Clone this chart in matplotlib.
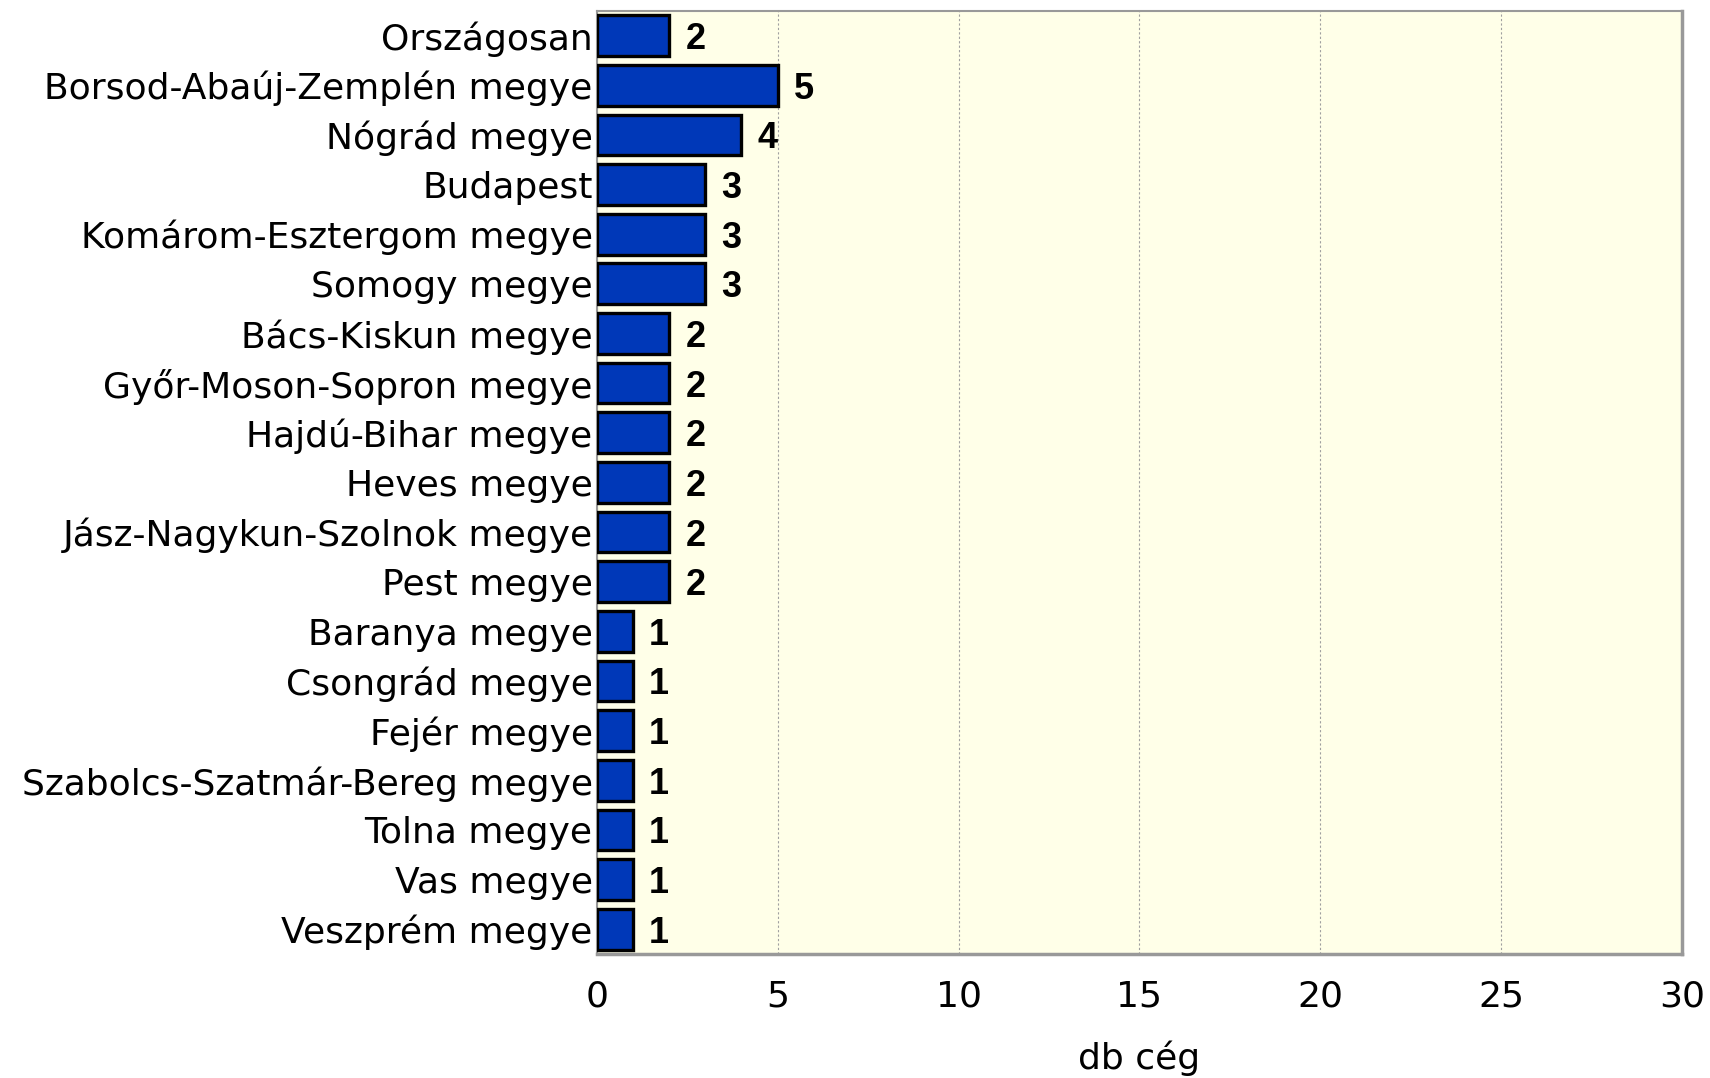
import matplotlib
matplotlib.use("Agg")
import matplotlib.pyplot as plt

categories = ["Országosan", "Borsod-Abaúj-Zemplén megye", "Nógrád megye", "Budapest",
              "Komárom-Esztergom megye", "Somogy megye", "Bács-Kiskun megye",
              "Győr-Moson-Sopron megye", "Hajdú-Bihar megye", "Heves megye",
              "Jász-Nagykun-Szolnok megye", "Pest megye", "Baranya megye",
              "Csongrád megye", "Fejér megye", "Szabolcs-Szatmár-Bereg megye",
              "Tolna megye", "Vas megye", "Veszprém megye"]
values = [2, 5, 4, 3, 3, 3, 2, 2, 2, 2, 2, 2, 1, 1, 1, 1, 1, 1, 1]
xticks = [0, 5, 10, 15, 20, 25, 30]
xlabel = "db cég"

plt.rcParams['font.family'] = ['DejaVu Sans']

fig = plt.figure(figsize=(17.1, 10.78), dpi=100)
ax = fig.add_axes([0.349, 0.115, 0.6346, 0.875])
ax.set_facecolor('#FFFFE8')

y = list(range(len(categories)))
ax.barh(y, values, height=0.82, color='#0038B8', edgecolor='black', linewidth=2.4, zorder=3)

for yi, v in zip(y, values):
    ax.text(v + 0.45, yi, str(v), va='center_baseline', ha='left', fontsize=26,
            fontweight='bold', family='Liberation Sans', zorder=5)

ax.set_xlim(0, 30)
ax.set_ylim(len(categories) - 0.5, -0.5)
ax.set_yticks(y)
ax.set_yticklabels(categories, fontsize=26)
ax.set_xticks(xticks)
ax.set_xticklabels([str(t) for t in xticks], fontsize=26)
ax.tick_params(axis='both', length=0)
ax.tick_params(axis='y', pad=3)
ax.tick_params(axis='x', pad=18)
ax.xaxis.grid(True, color='#A0A0A0', linestyle=(0, (2, 2)), linewidth=0.8, zorder=1)
ax.set_axisbelow(True)
for s in ['top', 'right', 'left', 'bottom']:
    ax.spines[s].set_color('#999999')
    ax.spines[s].set_linewidth(1.5)
ax.spines['bottom'].set_linewidth(2.5)
ax.spines['right'].set_linewidth(2.5)
ax.set_xlabel(xlabel, fontsize=26, labelpad=20)

fig.savefig('out.png', dpi=100)
